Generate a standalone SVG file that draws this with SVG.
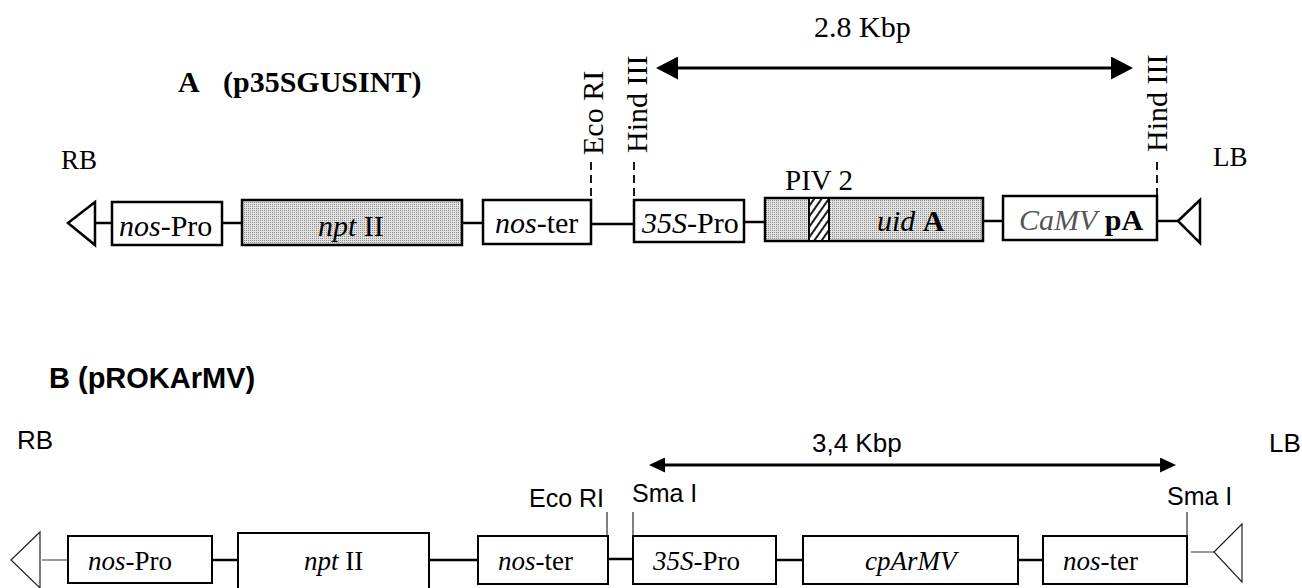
<svg xmlns="http://www.w3.org/2000/svg" width="1302" height="588" viewBox="0 0 1302 588">
<style>
.serif{font-family:"Liberation Serif","Times New Roman",serif;fill:#000}
.sans{font-family:"Liberation Sans",Arial,sans-serif;fill:#000}
.it{font-style:italic}
.bA{fill:#fff;stroke:#000;stroke-width:2.5}
.bB{fill:#fff;stroke:#000;stroke-width:2}
.cA{stroke:#000;stroke-width:2.5;fill:none}
.cB{stroke:#000;stroke-width:2.5;fill:none}
.gray{stroke:#777;stroke-width:1.5;fill:none}
.dash{stroke:#000;stroke-width:1.8;stroke-dasharray:8 5;fill:none}
.tick{stroke:#000;stroke-width:1;fill:none}
.tA{font-size:30px}
.tB{font-size:27px}
.lB{font-size:25px}
</style>
<defs>
<pattern id="stip" width="2" height="2" patternUnits="userSpaceOnUse"><rect width="2" height="2" fill="#e2e2e2"/><rect width="1" height="1" fill="#8a8a8a"/></pattern>
<pattern id="hatch" width="6" height="6" patternUnits="userSpaceOnUse" patternTransform="rotate(35)"><rect width="6" height="6" fill="#fff"/><line x1="1" y1="0" x2="1" y2="6" stroke="#000" stroke-width="1.8"/></pattern>
<marker id="ahA" viewBox="0 0 22 23" refX="12" refY="11.5" markerWidth="22" markerHeight="23" markerUnits="userSpaceOnUse" orient="auto-start-reverse"><path d="M0,0 L22,11.5 L0,23 z" fill="#000"/></marker>
<marker id="ahB" viewBox="0 0 16 15" refX="8" refY="7.5" markerWidth="16" markerHeight="15" markerUnits="userSpaceOnUse" orient="auto-start-reverse"><path d="M0,0 L16,7.5 L0,15 z" fill="#000"/></marker>
</defs>
<rect width="1302" height="588" fill="#fff"/>

<!-- Panel A labels -->
<g id="titleA"><text class="serif tA" font-weight="bold" x="178" y="92">A</text><text class="serif tA" font-weight="bold" x="223" y="92">(p35SGUSINT)</text></g>
<g id="RB-A"><text class="serif" font-size="27" x="61" y="169">RB</text></g>
<g id="LB-A"><text class="serif" font-size="27" x="1213" y="166">LB</text></g>
<g id="size-A"><text class="serif tA" x="814" y="37">2.8 Kbp</text></g>
<g id="ecori-A"><text class="serif tA" transform="translate(603,155) rotate(-90)">Eco RI</text></g>
<g id="hind1-A"><text class="serif tA" transform="translate(647,153) rotate(-90)">Hind III</text></g>
<g id="hind2-A"><text class="serif tA" transform="translate(1167,152) rotate(-90)">Hind III</text></g>

<!-- Panel A connectors -->
<g id="connectors-A">
<line class="cA" x1="95" y1="223" x2="112" y2="223"/>
<line class="cA" x1="222" y1="223" x2="242" y2="223"/>
<line class="cA" x1="462" y1="223" x2="483" y2="223"/>
<line class="cA" x1="591" y1="224" x2="634" y2="224"/>
<line class="cA" x1="744" y1="222" x2="765" y2="222"/>
<line class="cA" x1="983" y1="221" x2="1003" y2="221"/>
<line class="cA" x1="1157" y1="221" x2="1178" y2="221"/>
<line class="dash" x1="591" y1="162" x2="591" y2="200"/>
<line class="dash" x1="634" y1="162" x2="634" y2="200"/>
<line class="dash" x1="1157" y1="162" x2="1157" y2="196"/>
<line stroke="#000" stroke-width="3" x1="666" y1="68" x2="1123" y2="68" marker-start="url(#ahA)" marker-end="url(#ahA)"/>
</g>

<!-- Panel A nodes -->
<g id="RB-border-A"><polygon points="68,223 95,202 95,245" class="bA"/></g>
<g id="nosPro-A"><rect class="bA" x="112" y="202" width="110" height="43"/><text class="serif tA" x="119" y="236"><tspan class="it">nos</tspan>-Pro</text></g>
<g id="nptII-A"><rect x="242" y="200" width="220" height="45" fill="url(#stip)" stroke="#000" stroke-width="2.5"/><text class="serif tA" x="318" y="236"><tspan class="it">npt</tspan> II</text></g>
<g id="noster-A"><rect class="bA" x="483" y="200" width="108" height="44"/><text class="serif tA" x="495" y="233"><tspan class="it">nos</tspan>-ter</text></g>
<g id="p35S-A"><rect class="bA" x="634" y="200" width="110" height="42"/><text class="serif tA" x="642" y="233"><tspan class="it">35S</tspan>-Pro</text></g>
<g id="uidA-A"><rect x="765" y="198" width="218" height="43" fill="url(#stip)" stroke="#000" stroke-width="2.5"/><rect x="809" y="198" width="20" height="43" fill="url(#hatch)" stroke="#000" stroke-width="2"/><text class="serif" font-size="29" x="785" y="190">PIV 2</text><text class="serif tA" x="877" y="231"><tspan class="it">uid</tspan> <tspan font-weight="bold">A</tspan></text></g>
<g id="CaMVpA-A"><rect class="bA" x="1003" y="196" width="154" height="44"/><text class="serif tA" x="1019" y="230"><tspan class="it" fill="#555">CaMV</tspan> <tspan font-weight="bold">pA</tspan></text></g>
<g id="LB-border-A"><polygon points="1178,221 1200,200 1200,243" class="bA"/></g>

<!-- Panel B labels -->
<g id="titleB"><text class="sans" font-weight="bold" font-size="29" x="49" y="388">B (pROKArMV)</text></g>
<g id="RB-B"><text class="sans" font-size="26" x="17" y="449">RB</text></g>
<g id="LB-B"><text class="sans" font-size="26" x="1269" y="452">LB</text></g>
<g id="size-B"><text class="sans" font-size="26" x="812" y="452">3,4 Kbp</text></g>
<g id="ecori-B"><text class="sans lB" x="529" y="507">Eco RI</text></g>
<g id="sma1-B"><text class="sans lB" x="632" y="502">Sma I</text></g>
<g id="sma2-B"><text class="sans lB" x="1167" y="505">Sma I</text></g>

<!-- Panel B connectors -->
<g id="connectors-B">
<line class="gray" x1="42" y1="560" x2="68" y2="560"/>
<line class="cB" x1="212" y1="560" x2="238" y2="560"/>
<line class="cB" x1="429" y1="560" x2="478" y2="560"/>
<line class="cB" x1="608" y1="559" x2="633" y2="559"/>
<line class="cB" x1="776" y1="560" x2="803" y2="560"/>
<line class="cB" x1="1018" y1="560" x2="1043" y2="560"/>
<line class="gray" x1="1191" y1="552" x2="1214" y2="552"/>
<line class="tick" x1="607" y1="512" x2="607" y2="536"/>
<line class="tick" x1="633" y1="512" x2="633" y2="536"/>
<line class="tick" x1="1187" y1="512" x2="1187" y2="536"/>
<line stroke="#000" stroke-width="3" x1="657" y1="465" x2="1168" y2="465" marker-start="url(#ahB)" marker-end="url(#ahB)"/>
</g>

<!-- Panel B nodes -->
<g id="RB-border-B"><polygon points="11,560 40,532 40,588" fill="#fff" stroke="#222" stroke-width="1.2"/></g>
<g id="nosPro-B"><rect class="bB" x="68" y="536" width="144" height="47"/><text class="serif tB" x="88" y="570"><tspan class="it">nos</tspan>-Pro</text></g>
<g id="nptII-B"><rect class="bB" x="238" y="533" width="191" height="70"/><text class="serif tB" x="304" y="570"><tspan class="it">npt</tspan> II</text></g>
<g id="noster-B"><rect class="bB" x="478" y="536" width="130" height="48"/><text class="serif tB" x="498" y="570"><tspan class="it">nos</tspan>-ter</text></g>
<g id="p35S-B"><rect class="bB" x="633" y="536" width="143" height="48"/><text class="serif tB" x="653" y="570"><tspan class="it">35S</tspan>-Pro</text></g>
<g id="cpArMV-B"><rect class="bB" x="803" y="536" width="215" height="48"/><text class="serif tB it" x="865" y="570">cpArMV</text></g>
<g id="noster2-B"><rect class="bB" x="1043" y="536" width="144" height="48"/><text class="serif tB" x="1063" y="570"><tspan class="it">nos</tspan>-ter</text></g>
<g id="LB-border-B"><polygon points="1214,552 1242,524 1242,582" fill="#fff" stroke="#222" stroke-width="1.2"/></g>
</svg>
